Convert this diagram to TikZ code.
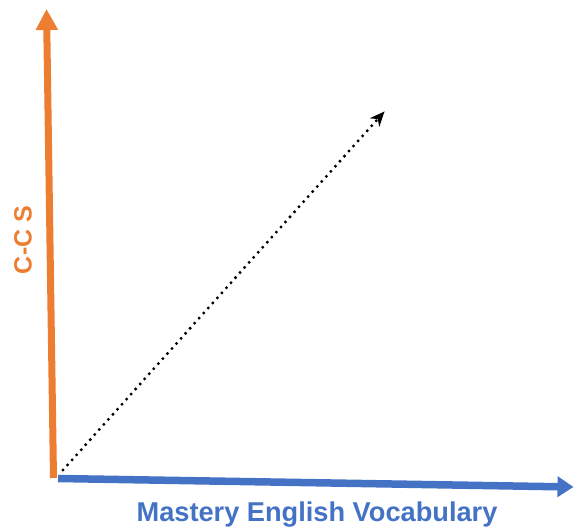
\documentclass[tikz,border=0pt]{standalone}
\usepackage{fontspec}
\setmainfont{Liberation Sans}
\usetikzlibrary{arrows.meta}
\definecolor{axisorange}{RGB}{237,125,49}
\definecolor{axisblue}{RGB}{68,114,196}
\begin{document}
\begin{tikzpicture}[x=1pt,y=-1pt,
    axislabel/.style={font=\bfseries, inner sep=0pt}]
  \useasboundingbox (0,0) rectangle (574,529);

  % ---------------- the two axes ----------------
  \coordinate (ybase) at (53.5,478);
  \coordinate (ytip)  at (46.5,9);
  \coordinate (xbase) at (58,478.5);
  \coordinate (xtip)  at (573.5,487);
  \draw[axisorange, line width=7pt, -{Triangle[length=21pt,width=21pt]}] (ybase) -- (ytip);
  \draw[axisblue, line width=7.5pt, -{Triangle[length=16pt,width=20pt]}] (xbase) -- (xtip);

  % the dotted growth line
  \coordinate (start) at (63,470);
  \coordinate (goal)  at (384.5,111.5);
  \draw[black, line width=3.3pt, line cap=round, dash pattern=on 0pt off 6.8pt,
        -{Stealth[length=15pt,width=13pt,line width=0pt]}] (start) -- (goal);

  % ---------------- labels ----------------
  \node[axislabel, axisorange, rotate=90, font=\fontsize{25}{25}\selectfont\bfseries]
    (ylabel) at (23,240) {C-C S};
  \node[axislabel, axisblue, anchor=base, font=\fontsize{27.2}{27.2}\selectfont\bfseries]
    (xlabel) at (317,522) {Mastery English Vocabulary};

\end{tikzpicture}
\end{document}
